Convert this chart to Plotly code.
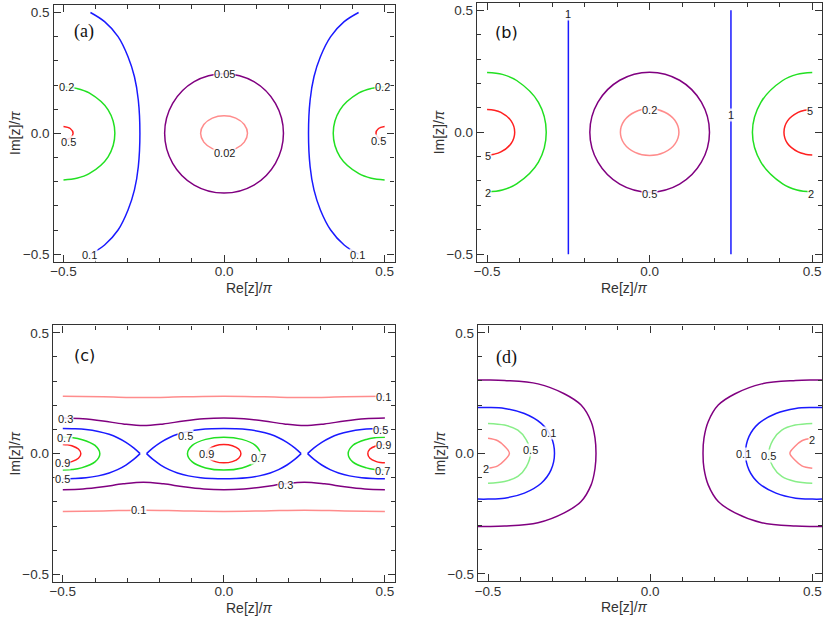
"""Four contour panels (a)-(d) of a complex function over Re[z]/pi, Im[z]/pi.

Each contour level is stored as a list of points read off the original figure
and drawn as a smoothed line; level labels are placed as small text boxes.
"""
import plotly.graph_objects as go

W, H = 830, 624

BLUE = "#1a1aff"
GREEN = "#22e022"
RED = "#ff2020"
PURPLE = "#800080"
PINK = "#ff8c8c"
LIGHT_GREEN = "#88ee88"
LIGHT_PINK = "#ff8888"

# ---------------------------------------------------------------- panel (a)
A_002_X = [0.073, 0.063, 0.0365, 0, -0.0365, -0.063, -0.073, -0.063, -0.0365, 0, 0.0365, 0.063, 0.073]
A_002_Y = [0, 0.0365, 0.063, 0.073, 0.063, 0.0365, 0, -0.0365, -0.063, -0.073, -0.063, -0.0365, 0]
A_005_X = [0.185, 0.160, 0.093, 0, -0.093, -0.160, -0.185, -0.160, -0.093, 0, 0.093, 0.160, 0.185]
A_005_Y = [0, 0.124, 0.214, 0.247, 0.214, 0.124, 0, -0.124, -0.214, -0.247, -0.214, -0.124, 0]
A_01L_X = [-0.416, -0.372, -0.330, -0.299, -0.279, -0.267, -0.262, -0.267, -0.279, -0.299, -0.330, -0.372, -0.416]
A_01R_X = [0.419, 0.374, 0.332, 0.300, 0.280, 0.268, 0.263, 0.268, 0.280, 0.300, 0.332, 0.374, 0.419]
A_01_Y = [0.5, 0.462, 0.40, 0.317, 0.234, 0.138, 0, -0.138, -0.234, -0.317, -0.40, -0.462, -0.5]
A_02L_X = [-0.5, -0.459, -0.42, -0.361, -0.34, -0.361, -0.42, -0.459, -0.5]
A_02R_X = [0.5, 0.459, 0.42, 0.361, 0.34, 0.361, 0.42, 0.459, 0.5]
A_02_Y = [0.193, 0.186, 0.167, 0.097, 0, -0.097, -0.167, -0.186, -0.193]
A_05L_X = [-0.5, -0.479, -0.47, -0.479, -0.5]
A_05R_X = [0.5, 0.481, 0.473, 0.481, 0.5]
A_05_Y = [0.028, 0.02, 0, -0.02, -0.028]
A_LABEL_TEXT = ["0.05", "0.02", "0.2", "0.2", "0.5", "0.5", "0.1", "0.1"]
A_LABEL_X = [0, 0, -0.49, 0.494, -0.485, 0.481, -0.42, 0.417]
A_LABEL_Y = [0.245, -0.08, 0.19, 0.19, -0.037, -0.03, -0.503, -0.503]

# ---------------------------------------------------------------- panel (b)
B_02_X = [0.09, 0.078, 0.045, 0, -0.045, -0.078, -0.09, -0.078, -0.045, 0, 0.045, 0.078, 0.09]
B_02_Y = [0, 0.048, 0.083, 0.096, 0.083, 0.048, 0, -0.048, -0.083, -0.096, -0.083, -0.048, 0]
B_05_X = [0.184, 0.159, 0.092, 0, -0.092, -0.159, -0.184, -0.159, -0.092, 0, 0.092, 0.159, 0.184]
B_05_Y = [0, 0.123, 0.213, 0.246, 0.213, 0.123, 0, -0.123, -0.213, -0.246, -0.213, -0.123, 0]
B_1L_X = [-0.25, -0.25]
B_1R_X = [0.25, 0.25]
B_1_Y = [0.5, -0.5]
B_2L_X = [-0.5, -0.453, -0.409, -0.342, -0.318, -0.342, -0.409, -0.453, -0.5]
B_2R_X = [0.5, 0.453, 0.409, 0.342, 0.316, 0.342, 0.409, 0.453, 0.5]
B_2_Y = [0.245, 0.237, 0.212, 0.1225, 0, -0.1225, -0.212, -0.237, -0.245]
B_5L_X = [-0.5, -0.478, -0.4575, -0.426, -0.415, -0.426, -0.4575, -0.478, -0.5]
B_5R_X = [0.5, 0.478, 0.4565, 0.424, 0.413, 0.424, 0.4565, 0.478, 0.5]
B_5_Y = [0.093, 0.090, 0.081, 0.0465, 0, -0.0465, -0.081, -0.090, -0.093]
B_LABEL_TEXT = ["1", "1", "0.2", "0.5", "5", "2", "5", "2"]
B_LABEL_X = [-0.25, 0.25, 0, 0, -0.496, -0.498, 0.494, 0.496]
B_LABEL_Y = [0.485, 0.072, 0.089, -0.253, -0.098, -0.251, 0.086, -0.253]

# ---------------------------------------------------------------- panel (c)
C_01_X = [-0.5, -0.375, -0.25, -0.125, 0, 0.125, 0.25, 0.375, 0.5]
C_01T_Y = [0.237, 0.235, 0.232, 0.235, 0.237, 0.235, 0.232, 0.235, 0.237]
C_01B_Y = [-0.239, -0.237, -0.234, -0.237, -0.239, -0.237, -0.234, -0.237, -0.239]
C_03_X = [-0.5, -0.4375, -0.375, -0.3125, -0.25, -0.1875, -0.125, -0.0625, 0,
          0.0625, 0.125, 0.1875, 0.25, 0.3125, 0.375, 0.4375, 0.5]
C_03T_Y = [0.147, 0.144, 0.135, 0.123, 0.116, 0.123, 0.135, 0.144, 0.147,
           0.144, 0.135, 0.123, 0.116, 0.123, 0.135, 0.144, 0.147]
C_03B_Y = [-0.149, -0.146, -0.137, -0.125, -0.118, -0.125, -0.137, -0.146, -0.149,
           -0.146, -0.137, -0.125, -0.118, -0.125, -0.137, -0.146, -0.149]
C_05M_X = [-0.24, -0.22, -0.196, -0.17, -0.144, -0.11, -0.072, -0.036, 0,
           0.036, 0.072, 0.11, 0.144, 0.17, 0.196, 0.22, 0.24]
C_05M_Y = [0, 0.024, 0.047, 0.066, 0.080, 0.092, 0.100, 0.103, 0.104,
           0.103, 0.100, 0.092, 0.080, 0.066, 0.047, 0.024, 0]
C_05L_X = [-0.5, -0.464, -0.428, -0.39, -0.356, -0.33, -0.304, -0.28, -0.26]
C_05R_X = [0.5, 0.464, 0.428, 0.39, 0.356, 0.33, 0.304, 0.28, 0.26]
C_05S_Y = [0.104, 0.103, 0.100, 0.092, 0.080, 0.066, 0.047, 0.024, 0]
C_07M_X = [0.113, 0.098, 0.0565, 0, -0.0565, -0.098, -0.113, -0.098, -0.0565, 0, 0.0565, 0.098, 0.113]
C_07M_Y = [0, 0.034, 0.059, 0.068, 0.059, 0.034, 0, -0.034, -0.059, -0.068, -0.059, -0.034, 0]
C_07L_X = [-0.5, -0.47, -0.4425, -0.4, -0.385, -0.4, -0.4425, -0.47, -0.5]
C_07R_X = [0.5, 0.47, 0.4425, 0.4, 0.386, 0.4, 0.4425, 0.47, 0.5]
C_07S_Y = [0.068, 0.0657, 0.0589, 0.034, 0, -0.034, -0.0589, -0.0657, -0.068]
C_09M_X = [0.053, 0.046, 0.0265, 0, -0.0265, -0.046, -0.053, -0.046, -0.0265, 0, 0.0265, 0.046, 0.053]
C_09M_Y = [0, 0.019, 0.033, 0.038, 0.033, 0.019, 0, -0.019, -0.033, -0.038, -0.033, -0.019, 0]
C_09L_X = [-0.5, -0.4855, -0.472, -0.4515, -0.444, -0.4515, -0.472, -0.4855, -0.5]
C_09R_X = [0.5, 0.4865, 0.4735, 0.4535, 0.447, 0.4535, 0.4735, 0.4865, 0.5]
C_09S_Y = [0.038, 0.0367, 0.0329, 0.019, 0, -0.019, -0.0329, -0.0367, -0.038]
C_LABEL_TEXT = ["0.1", "0.1", "0.3", "0.3", "0.5", "0.5", "0.5",
                "0.7", "0.7", "0.7", "0.9", "0.9", "0.9"]
C_LABEL_X = [0.496, -0.266, -0.493, 0.192, -0.118, 0.486, -0.502,
             -0.495, 0.109, 0.494, -0.5, -0.054, 0.496]
C_LABEL_Y = [0.234, -0.234, 0.145, -0.128, 0.074, 0.097, -0.104,
             0.064, -0.018, -0.072, -0.04, 0.0, 0.037]

# ---------------------------------------------------------------- panel (d)
D_PURPLE_L_X = [-0.531, -0.5, -0.449, -0.346, -0.265, -0.213, -0.182, -0.170, -0.167,
                -0.170, -0.182, -0.213, -0.265, -0.346, -0.449, -0.5, -0.531]
D_PURPLE_R_X = [0.531, 0.5, 0.449, 0.344, 0.262, 0.210, 0.179, 0.166, 0.163,
                0.166, 0.179, 0.210, 0.262, 0.344, 0.449, 0.5, 0.531]
D_PURPLE_Y = [0.304, 0.304, 0.302, 0.288, 0.247, 0.2, 0.131, 0.063, 0,
              -0.063, -0.131, -0.2, -0.247, -0.288, -0.302, -0.304, -0.304]
D_01L_X = [-0.531, -0.5, -0.449, -0.388, -0.336, -0.306, -0.295,
           -0.306, -0.336, -0.388, -0.449, -0.5, -0.531]
D_01R_X = [0.531, 0.5, 0.449, 0.388, 0.335, 0.305, 0.294,
           0.305, 0.335, 0.388, 0.449, 0.5, 0.531]
D_01_Y = [0.19, 0.19, 0.186, 0.165, 0.124, 0.07, 0, -0.07, -0.124, -0.165, -0.186, -0.19, -0.19]
D_05L_X = [-0.5, -0.449, -0.408, -0.382, -0.369, -0.382, -0.408, -0.449, -0.5]
D_05R_X = [0.5, 0.447, 0.406, 0.379, 0.366, 0.379, 0.406, 0.447, 0.5]
D_05_Y = [0.124, 0.117, 0.096, 0.056, 0, -0.056, -0.096, -0.117, -0.124]
D_2L_X = [-0.5, -0.47, -0.449, -0.434, -0.449, -0.47, -0.5]
D_2R_X = [0.5, 0.468, 0.447, 0.431, 0.447, 0.468, 0.5]
D_2_Y = [0.062, 0.052, 0.029, 0, -0.029, -0.052, -0.062]
D_LABEL_TEXT = ["0.1", "0.5", "2", "0.1", "0.5", "2"]
D_LABEL_X = [-0.314, -0.369, -0.505, 0.289, 0.364, 0.5]
D_LABEL_Y = [0.083, 0.012, -0.064, -0.003, -0.011, 0.057]

PANEL_NAMES = ["(a)", "(b)", "(c)", "(d)"]
PANEL_NAME_X = [-0.435, -0.441, -0.434, -0.444]
PANEL_NAME_Y = [0.42, 0.41, 0.407, 0.396]

# frame edges in pixels: left, right, top, bottom
FRAMES = [(50.7, 393.0, 5.0, 261.7), (475.7, 822.3, 2.7, 261.7),
          (50.0, 393.3, 325.3, 582.0), (476.7, 822.3, 325.3, 581.3)]
RANGE = [-0.531, 0.531]
FRAME_COLOR = "#333333"

fig = go.Figure()


def curve(panel, xs, ys, color):
    fig.add_trace(go.Scatter(
        x=xs, y=ys, mode="lines",
        line=dict(color=color, width=1.5, shape="spline", smoothing=1.0),
        xaxis="x" if panel == 1 else f"x{panel}",
        yaxis="y" if panel == 1 else f"y{panel}",
        hoverinfo="skip", showlegend=False,
    ))


def labels(panel, texts, xs, ys):
    ref = "" if panel == 1 else str(panel)
    for t, x, y in zip(texts, xs, ys):
        fig.add_annotation(
            x=x, y=y, xref="x" + ref, yref="y" + ref, text=t, showarrow=False,
            font=dict(family="Liberation Sans", size=11, color="#222222"),
            bgcolor="rgba(255,255,255,0.85)", borderpad=0,
        )


# (a)
curve(1, A_002_X, A_002_Y, PINK)
curve(1, A_005_X, A_005_Y, PURPLE)
curve(1, A_01L_X, A_01_Y, BLUE)
curve(1, A_01R_X, A_01_Y, BLUE)
curve(1, A_02L_X, A_02_Y, GREEN)
curve(1, A_02R_X, A_02_Y, GREEN)
curve(1, A_05L_X, A_05_Y, RED)
curve(1, A_05R_X, A_05_Y, RED)
labels(1, A_LABEL_TEXT, A_LABEL_X, A_LABEL_Y)

# (b)
curve(2, B_02_X, B_02_Y, PINK)
curve(2, B_05_X, B_05_Y, PURPLE)
curve(2, B_1L_X, B_1_Y, BLUE)
curve(2, B_1R_X, B_1_Y, BLUE)
curve(2, B_2L_X, B_2_Y, GREEN)
curve(2, B_2R_X, B_2_Y, GREEN)
curve(2, B_5L_X, B_5_Y, RED)
curve(2, B_5R_X, B_5_Y, RED)
labels(2, B_LABEL_TEXT, B_LABEL_X, B_LABEL_Y)

# (c)
curve(3, C_01_X, C_01T_Y, PINK)
curve(3, C_01_X, C_01B_Y, PINK)
curve(3, C_03_X, C_03T_Y, PURPLE)
curve(3, C_03_X, C_03B_Y, PURPLE)
curve(3, C_05M_X, C_05M_Y, BLUE)
curve(3, C_05M_X, [-v for v in C_05M_Y], BLUE)
curve(3, C_05L_X, C_05S_Y, BLUE)
curve(3, C_05L_X, [-v for v in C_05S_Y], BLUE)
curve(3, C_05R_X, C_05S_Y, BLUE)
curve(3, C_05R_X, [-v for v in C_05S_Y], BLUE)
curve(3, C_07M_X, C_07M_Y, GREEN)
curve(3, C_07L_X, C_07S_Y, GREEN)
curve(3, C_07R_X, C_07S_Y, GREEN)
curve(3, C_09M_X, C_09M_Y, RED)
curve(3, C_09L_X, C_09S_Y, RED)
curve(3, C_09R_X, C_09S_Y, RED)
labels(3, C_LABEL_TEXT, C_LABEL_X, C_LABEL_Y)

# (d)
curve(4, D_PURPLE_L_X, D_PURPLE_Y, PURPLE)
curve(4, D_PURPLE_R_X, D_PURPLE_Y, PURPLE)
curve(4, D_01L_X, D_01_Y, BLUE)
curve(4, D_01R_X, D_01_Y, BLUE)
curve(4, D_05L_X, D_05_Y, LIGHT_GREEN)
curve(4, D_05R_X, D_05_Y, LIGHT_GREEN)
curve(4, D_2L_X, D_2_Y, LIGHT_PINK)
curve(4, D_2R_X, D_2_Y, LIGHT_PINK)
labels(4, D_LABEL_TEXT, D_LABEL_X, D_LABEL_Y)

tick_font = dict(family="Liberation Sans", size=13.5, color=FRAME_COLOR)
title_font = dict(family="Liberation Sans", size=14, color=FRAME_COLOR)
layout_axes = {}
for i, (left, right, top, bottom) in enumerate(FRAMES, start=1):
    sfx = "" if i == 1 else str(i)
    common = dict(
        range=RANGE, tickvals=[-0.5, 0, 0.5], ticktext=["\u22120.5", "0.0", "0.5"],
        ticks="inside", ticklen=7, tickwidth=1, tickcolor=FRAME_COLOR,
        minor=dict(dtick=0.1, tick0=0, ticks="inside", ticklen=4,
                   tickwidth=1, tickcolor=FRAME_COLOR),
        showline=True, linecolor=FRAME_COLOR, linewidth=1.4, mirror="allticks",
        showgrid=False, zeroline=False, tickfont=tick_font, fixedrange=True,
    )
    layout_axes["xaxis" + sfx] = dict(common, domain=[left / W, right / W],
                                      anchor="y" + sfx, ticklabelstandoff=-3)
    layout_axes["yaxis" + sfx] = dict(common, domain=[1 - bottom / H, 1 - top / H],
                                      anchor="x" + sfx)

    # axis titles
    fig.add_annotation(
        x=(left + right) / 2 / W, y=1 - (bottom + 26) / H, xref="paper", yref="paper",
        text="Re[z]/<i>π</i>", showarrow=False, font=title_font, yanchor="middle",
    )
    fig.add_annotation(
        x=(left - 38) / W, y=1 - (top + bottom) / 2 / H, xref="paper", yref="paper",
        text="Im[z]/<i>π</i>", showarrow=False, font=title_font, textangle=-90,
        xanchor="center", yanchor="middle",
    )
    # panel letter
    fig.add_annotation(
        x=PANEL_NAME_X[i - 1], y=PANEL_NAME_Y[i - 1], xref="x" + sfx, yref="y" + sfx,
        text=PANEL_NAMES[i - 1], showarrow=False,
        font=dict(family="Liberation Serif" if i in (1, 4) else "DejaVu Sans",
                  size=18 if i in (1, 4) else 16, color="#111111"),
    )

fig.update_layout(
    width=W, height=H,
    margin=dict(l=0, r=0, t=0, b=0),
    paper_bgcolor="white", plot_bgcolor="white",
    showlegend=False,
    **layout_axes,
)

# drop the browser's default body margin so the 830x624 figure fills the window
fig.write_html(
    "out.html",
    config={"displayModeBar": False},
    post_script="document.body.style.margin='0';document.body.style.overflow='hidden';",
)
